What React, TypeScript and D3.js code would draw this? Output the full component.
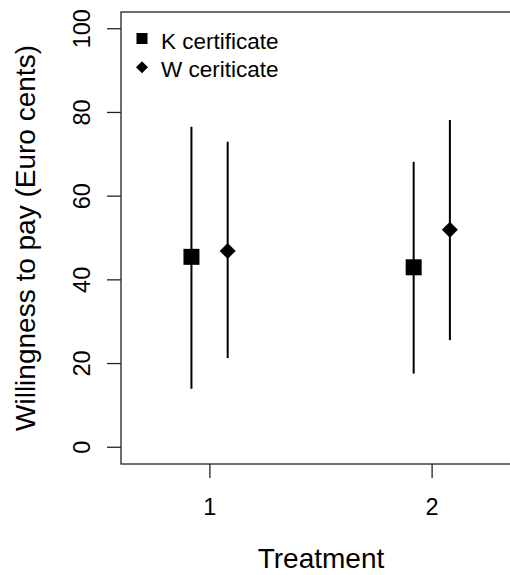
import React from "react";
import * as d3 from "d3";

const treatments = [1, 2];
const seriesNames = ["K certificate", "W ceriticate"];
const kMean = [45.5, 43.0];
const kLow = [14.0, 17.6];
const kHigh = [76.6, 68.2];
const wMean = [46.9, 52.0];
const wLow = [21.3, 25.6];
const wHigh = [73.0, 78.2];
const yTicks = [0, 20, 40, 60, 80, 100];
const xTicks = [1, 2];

const W = 510;
const H = 575;
const FONT = "'Liberation Sans', Arial, sans-serif";

export default function App() {
  const left = 121, right = 521, top = 12, bottom = 464;
  const x = d3.scaleLinear().domain([0.6, 2.4]).range([left, right]);
  const y = d3.scaleLinear().domain([-4, 104]).range([bottom, top]);
  const kOff = -0.083;
  const wOff = 0.08;
  const diamond = (cx: number, cy: number, r: number) =>
    `M${cx},${cy - r}L${cx + r},${cy}L${cx},${cy + r}L${cx - r},${cy}Z`;
  const sq = 16;

  return (
    <svg width={W} height={H} style={{ position: "absolute", left: 0, top: 0, background: "#fff" }}>
      <rect x={0} y={0} width={W} height={H} fill="#fff" />
      <rect x={left} y={top} width={right - left} height={bottom - top} fill="none" stroke="#222" strokeWidth={1.3} />
      {yTicks.map((t) => (
        <g key={"y" + t}>
          <line x1={left - 14} x2={left} y1={y(t)} y2={y(t)} stroke="#222" strokeWidth={1.3} />
          <text
            transform={`translate(89.5,${y(t)}) rotate(-90)`}
            textAnchor="middle"
            fontFamily={FONT}
            fontSize={23.5}
            fill="#000"
          >
            {t}
          </text>
        </g>
      ))}
      {xTicks.map((t) => (
        <g key={"x" + t}>
          <line x1={x(t)} x2={x(t)} y1={bottom} y2={bottom + 14} stroke="#222" strokeWidth={1.3} />
          <text x={x(t)} y={515} textAnchor="middle" fontFamily={FONT} fontSize={23.5} fill="#000">
            {t}
          </text>
        </g>
      ))}
      <text x={(left + right) / 2} y={568.3} textAnchor="middle" fontFamily={FONT} fontSize={28} fill="#000">
        Treatment
      </text>
      <text
        transform={`translate(35,${(top + bottom) / 2}) rotate(-90)`}
        textAnchor="middle"
        fontFamily={FONT}
        fontSize={28}
        fill="#000"
      >
        Willingness to pay (Euro cents)
      </text>
      {treatments.map((t, i) => (
        <g key={"e" + t}>
          <line x1={x(t + kOff)} x2={x(t + kOff)} y1={y(kLow[i])} y2={y(kHigh[i])} stroke="#000" strokeWidth={2} />
          <line x1={x(t + wOff)} x2={x(t + wOff)} y1={y(wLow[i])} y2={y(wHigh[i])} stroke="#000" strokeWidth={2} />
          <rect x={x(t + kOff) - sq / 2} y={y(kMean[i]) - sq / 2} width={sq} height={sq} fill="#000" />
          <path d={diamond(x(t + wOff), y(wMean[i]), 8)} fill="#000" />
        </g>
      ))}
      <rect x={142 - 5.5} y={38.5 - 5.5} width={11} height={11} fill="#000" />
      <path d={diamond(142, 67.3, 6)} fill="#000" />
      <text x={161} y={49.3} fontFamily={FONT} fontSize={22.5} fill="#000">
        {seriesNames[0]}
      </text>
      <text x={161} y={76.7} fontFamily={FONT} fontSize={22.5} fill="#000">
        {seriesNames[1]}
      </text>
    </svg>
  );
}
